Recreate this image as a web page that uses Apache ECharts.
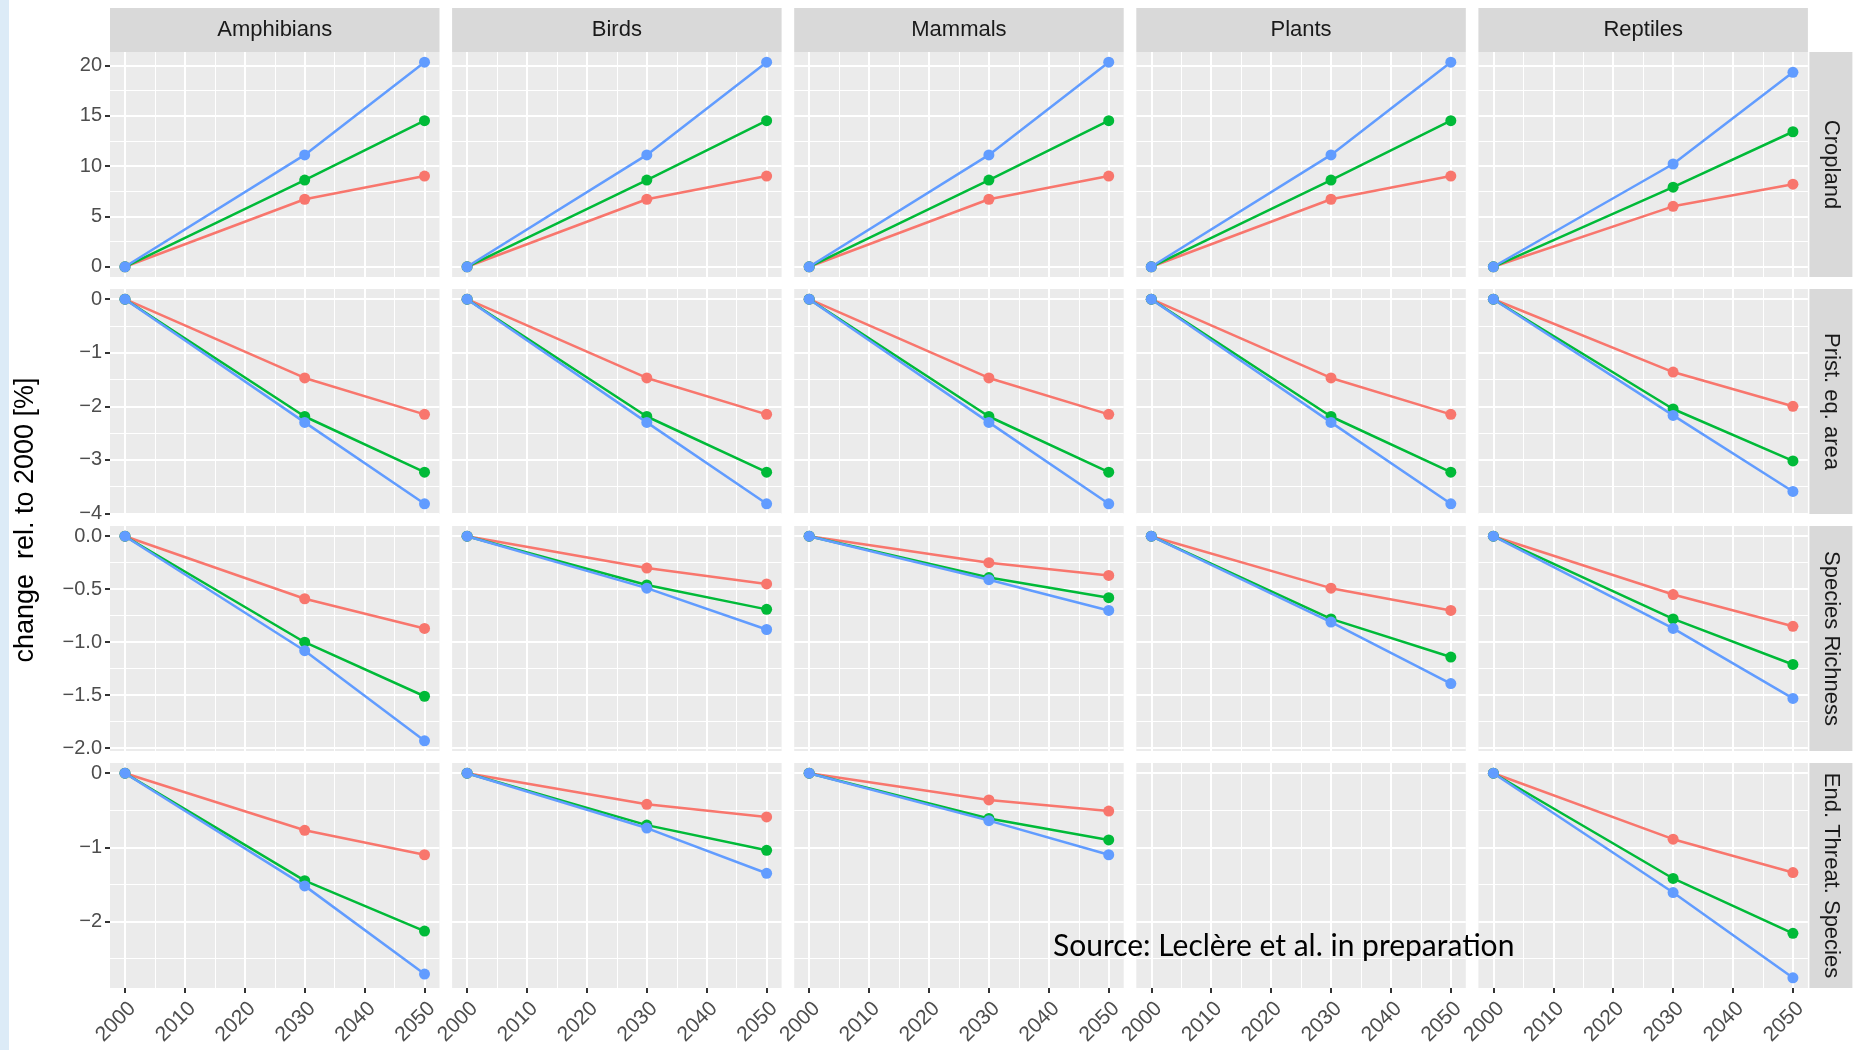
<!DOCTYPE html>
<html><head><meta charset="utf-8">
<script src="https://cdn.jsdelivr.net/npm/echarts@6/dist/echarts.min.js"></script>
<style>html,body{margin:0;padding:0;background:#fff}#c{width:1856px;height:1050px}</style>
</head><body><div id="c"></div>
<script>
// ---------- data ----------
const years = [2000, 2030, 2050];
const taxa = ["Amphibians", "Birds", "Mammals", "Plants", "Reptiles"];
const indicators = ["Cropland", "Prist. eq. area", "Species Richness", "End. Threat. Species"];
const scenarioNames = ["Scenario 1", "Scenario 2", "Scenario 3"];
const scenarioColors = ["#F8766D", "#00BA38", "#619CFF"];

// values per taxon (Amphibians, Birds, Mammals, Plants, Reptiles) at 2000, 2030, 2050
const croplandRed   = [[0, 6.7, 9.0], [0, 6.7, 9.0], [0, 6.7, 9.0], [0, 6.7, 9.0], [0, 6.0, 8.2]];
const croplandGreen = [[0, 8.6, 14.5], [0, 8.6, 14.5], [0, 8.6, 14.5], [0, 8.6, 14.5], [0, 7.9, 13.4]];
const croplandBlue  = [[0, 11.1, 20.3], [0, 11.1, 20.3], [0, 11.1, 20.3], [0, 11.1, 20.3], [0, 10.2, 19.3]];

const pristRed   = [[0, -1.47, -2.15], [0, -1.47, -2.15], [0, -1.47, -2.15], [0, -1.47, -2.15], [0, -1.36, -2.0]];
const pristGreen = [[0, -2.19, -3.23], [0, -2.19, -3.23], [0, -2.19, -3.23], [0, -2.19, -3.23], [0, -2.05, -3.02]];
const pristBlue  = [[0, -2.3, -3.82], [0, -2.3, -3.82], [0, -2.3, -3.82], [0, -2.3, -3.82], [0, -2.17, -3.59]];

const richnessRed   = [[0, -0.59, -0.87], [0, -0.30, -0.45], [0, -0.25, -0.37], [0, -0.49, -0.70], [0, -0.55, -0.85]];
const richnessGreen = [[0, -1.00, -1.51], [0, -0.46, -0.69], [0, -0.39, -0.58], [0, -0.78, -1.14], [0, -0.78, -1.21]];
const richnessBlue  = [[0, -1.08, -1.93], [0, -0.49, -0.88], [0, -0.41, -0.70], [0, -0.81, -1.39], [0, -0.87, -1.53]];

const threatRed   = [[0, -0.77, -1.10], [0, -0.42, -0.59], [0, -0.36, -0.51], null, [0, -0.89, -1.34]];
const threatGreen = [[0, -1.45, -2.13], [0, -0.70, -1.04], [0, -0.61, -0.90], null, [0, -1.42, -2.16]];
const threatBlue  = [[0, -1.52, -2.71], [0, -0.74, -1.35], [0, -0.64, -1.10], null, [0, -1.61, -2.76]];

const xBreaks = [2000, 2010, 2020, 2030, 2040, 2050];
const yBreaks = [[0, 5, 10, 15, 20], [-4, -3, -2, -1, 0], [-2, -1.5, -1, -0.5, 0], [-2, -1, 0]];
const yDecimals = [0, 0, 1, 0];
const yTitle = "change  rel. to 2000 [%]";
const sourceNote = "Source: Leclère et al. in preparation";

// ---------- build ----------
const rowData = [
  [croplandRed, croplandGreen, croplandBlue],
  [pristRed, pristGreen, pristBlue],
  [richnessRed, richnessGreen, richnessBlue],
  [threatRed, threatGreen, threatBlue]
];

const L = { left: 110, w: 329.5, colStep: 342.1, top: 52, h: 225, rowStep: 237, stripTop: 8, stripH: 44, stripW: 43 };
const FONT = "Liberation Sans";

function mids(b) { const o = []; for (let i = 0; i < b.length - 1; i++) o.push((b[i] + b[i + 1]) / 2); return o; }
function expand(lo, hi) { const d = (hi - lo) * 0.05; return [lo - d, hi + d]; }

const xr = expand(Math.min(...years), Math.max(...years));
const yr = rowData.map(sc => {
  const all = [];
  sc.forEach(arr => arr.forEach(v => v && all.push(...v)));
  return expand(Math.min(...all), Math.max(...all));
});
function minorFor(b, r) {
  const step = b[1] - b[0];
  const ext = [b[0] - step, ...b, b[b.length - 1] + step];
  return mids(ext).filter(v => v >= r[0] && v <= r[1]);
}

const grids = [], xAxes = [], yAxes = [], series = [], graphics = [];
const fmtNum = (v, d) => { const s = Number(v).toFixed(d); return s.replace('-', '\u2212'); };

for (let r = 0; r < 4; r++) {
  for (let c = 0; c < 5; c++) {
    const gi = grids.length;
    const left = L.left + c * L.colStep, top = L.top + r * L.rowStep;
    grids.push({ left, top, width: L.w, height: L.h, backgroundColor: '#EBEBEB', show: true, borderWidth: 0, outerBoundsMode: 'none' });
    const bottomRow = r === 3, firstCol = c === 0;
    const xMajorIdx = xAxes.length;
    xAxes.push({
      type: 'value', gridIndex: gi, min: xr[0], max: xr[1], position: 'bottom',
      axisLine: { show: false, onZero: false },
      axisTick: { show: bottomRow, customValues: xBreaks, length: 5, lineStyle: { color: '#333', width: 2 } },
      axisLabel: { show: bottomRow, customValues: xBreaks, rotate: 45, margin: 10, align: 'right', verticalAlign: 'top',
        fontFamily: FONT, fontSize: 21, color: '#4D4D4D', formatter: v => String(v) },
      splitLine: { show: true, lineStyle: { color: '#FFFFFF', width: 2 } }
    });
    xAxes.push({
      type: 'value', gridIndex: gi, min: xr[0], max: xr[1], position: 'top',
      axisLine: { show: false, onZero: false }, axisLabel: { show: false },
      axisTick: { show: false, customValues: mids(xBreaks) },
      splitLine: { show: true, lineStyle: { color: '#FFFFFF', width: 1 } }
    });
    const yMajorIdx = yAxes.length;
    yAxes.push({
      type: 'value', gridIndex: gi, min: yr[r][0], max: yr[r][1], position: 'left',
      axisLine: { show: false, onZero: false },
      axisTick: { show: firstCol, customValues: yBreaks[r], length: 5, lineStyle: { color: '#333', width: 2 } },
      axisLabel: { show: firstCol, customValues: yBreaks[r], margin: 8, fontFamily: FONT, fontSize: 20, color: '#4D4D4D', formatter: v => fmtNum(v, yDecimals[r]) },
      splitLine: { show: true, lineStyle: { color: '#FFFFFF', width: 2 } }
    });
    yAxes.push({
      type: 'value', gridIndex: gi, min: yr[r][0], max: yr[r][1], position: 'right',
      axisLine: { show: false, onZero: false }, axisLabel: { show: false },
      axisTick: { show: false, customValues: minorFor(yBreaks[r], yr[r]) },
      splitLine: { show: true, lineStyle: { color: '#FFFFFF', width: 1 } }
    });
    rowData[r].forEach((scArr, s) => {
      const vals = scArr[c];
      if (!vals) return;
      series.push({
        type: 'line', name: scenarioNames[s], xAxisIndex: xMajorIdx, yAxisIndex: yMajorIdx,
        data: years.map((yv, i) => [yv, vals[i]]),
        symbol: 'circle', symbolSize: 11, showSymbol: true,
        lineStyle: { color: scenarioColors[s], width: 2.5 },
        itemStyle: { color: scenarioColors[s] },
        z: 2 + s, silent: true, animation: false
      });
    });
  }
}

// strips
taxa.forEach((t, c) => {
  const left = L.left + c * L.colStep;
  graphics.push({ type: 'rect', shape: { x: left, y: L.stripTop, width: L.w, height: L.stripH }, style: { fill: '#D9D9D9' }, silent: true });
  graphics.push({ type: 'text', x: left + L.w / 2, y: L.stripTop + L.stripH / 2, style: { text: t, fill: '#1A1A1A', font: '22px "Liberation Sans"', textAlign: 'center', textVerticalAlign: 'middle' }, silent: true });
});
const stripX = L.left + 4 * L.colStep + L.w + 1.5;
indicators.forEach((t, r) => {
  const top = L.top + r * L.rowStep;
  graphics.push({ type: 'rect', shape: { x: stripX, y: top, width: L.stripW, height: L.h }, style: { fill: '#D9D9D9' }, silent: true });
  graphics.push({ type: 'text', x: stripX + L.stripW / 2, y: top + L.h / 2, rotation: -Math.PI / 2, style: { text: t, fill: '#1A1A1A', font: '22px "Liberation Sans"', textAlign: 'center', textVerticalAlign: 'middle' }, silent: true });
});
// y title
graphics.push({ type: 'text', x: 26, y: L.top + (3 * L.rowStep + L.h) / 2, rotation: Math.PI / 2, style: { text: yTitle, fill: '#000', font: '27px "Liberation Sans"', textAlign: 'center', textVerticalAlign: 'middle' }, silent: true });
// slide decoration at left edge
graphics.push({ type: 'rect', shape: { x: 0, y: 0, width: 9, height: 1050 }, style: { fill: '#DCEBF7' }, silent: true, z: -1 });
// source note
graphics.push({ type: 'text', x: 1053, y: 946, z: 100, style: { text: sourceNote, fill: '#000', font: '30px Lato', textAlign: 'left', textVerticalAlign: 'middle' }, silent: true });

const chart = echarts.init(document.getElementById('c'), null, { renderer: 'canvas' });
chart.setOption({
  animation: false,
  backgroundColor: '#FFFFFF',
  grid: grids, xAxis: xAxes, yAxis: yAxes, series,
  graphic: { elements: graphics }
});
</script></body></html>
